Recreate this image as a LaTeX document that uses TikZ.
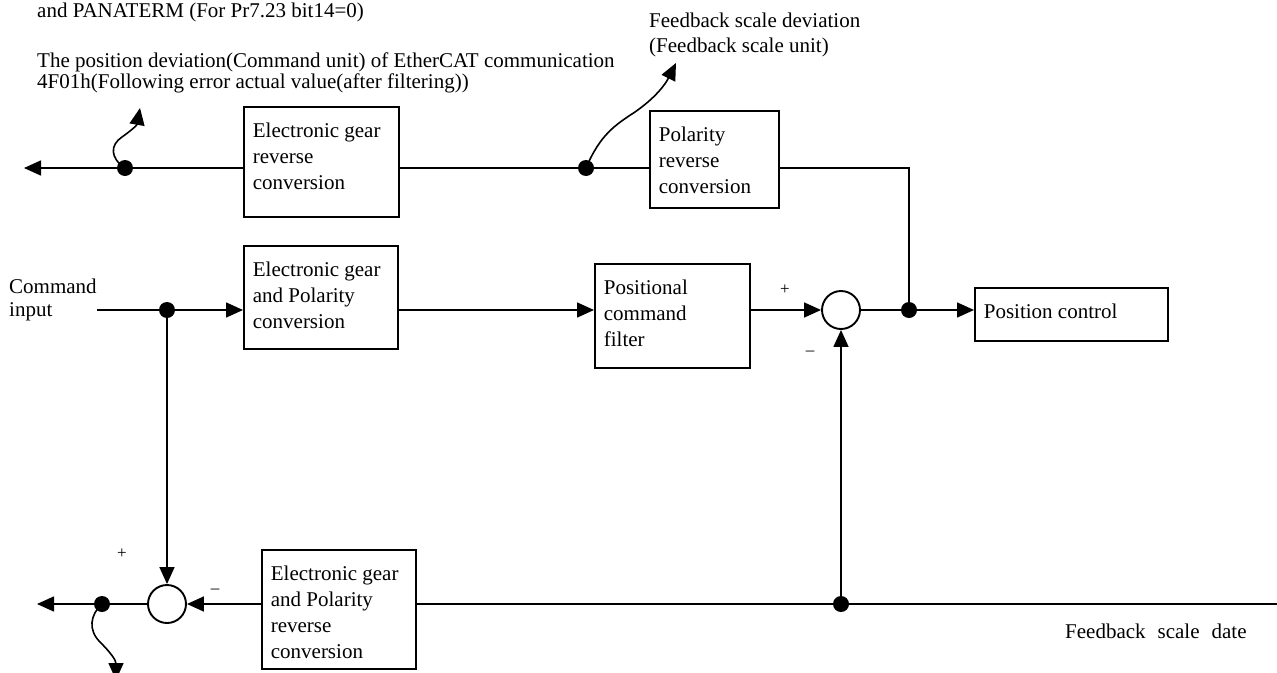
\documentclass[tikz,border=0pt]{standalone}
\usepackage{fontspec}
\setmainfont{Liberation Serif}
\usetikzlibrary{arrows.meta}
\newcommand\blocktxt[3]{\parbox[c][#2][t]{#1}{\raggedright\leftskip=9pt\baselineskip=26pt\rule{0pt}{31pt}#3}}
\newcommand\lines[2]{{\fontsize{21pt}{#1}\selectfont\begin{tabular}[t]{@{}l@{}}#2\end{tabular}}}
\begin{document}
\begin{tikzpicture}[x=1pt,y=-1pt,
  every node/.append style={font=\fontsize{21pt}{26pt}\selectfont},
  box/.style={draw, line width=1.7pt, inner sep=0pt, anchor=north west},
  ln/.style={line width=1.6pt},
  arr/.style={ln, -{Triangle[length=17pt,width=15pt]}},
  dot/.style={circle, fill, inner sep=0pt, minimum size=16pt},
  sumnode/.style={circle, draw, line width=1.9pt, minimum size=38pt, inner sep=0pt},
  lbl/.style={inner sep=0pt, anchor=base west},
  sgn/.style={font=\fontsize{17pt}{19pt}\selectfont, inner sep=0pt}]
\useasboundingbox (0,0) rectangle (1277,672);

% blocks
\node[box] (b1) at (243,106) {\blocktxt{155pt}{110pt}{Electronic gear\\reverse\\conversion}};
\node[box] (b2) at (649,110) {\blocktxt{129pt}{97pt}{Polarity\\reverse\\conversion}};
\node[box] (b3) at (243,245) {\blocktxt{154pt}{103pt}{Electronic gear\\and Polarity\\conversion}};
\node[box] (b4) at (594,263) {\blocktxt{155pt}{104pt}{Positional\\command\\filter}};
\node[box] (b5) at (974,287) {\blocktxt{193pt}{53pt}{Position control}};
\node[box] (b6) at (261,549) {\blocktxt{154pt}{119pt}{Electronic gear\\and Polarity\\reverse\\conversion}};

% summing points
\node[sumnode] (c1) at (841,310) {};
\node[sumnode] (c2) at (167,604) {};

% texts
\node[lbl] (t0) at (37,17) {and PANATERM (For Pr7.23 bit14=0)};
\node[lbl] (tpos) at (37,67) {\lines{21pt}{The position deviation(Command unit) of EtherCAT communication\\4F01h(Following error actual value(after filtering))}};
\node[lbl] (tfsd) at (649,27) {\lines{25pt}{Feedback scale deviation\\(Feedback scale unit)}};
\node[lbl] (cmd) at (9,293) {\lines{23pt}{Command\\input}};
\node[lbl] (tfsdate) at (1065,638) {Feedback\hspace{12pt}scale\hspace{12pt}date};
\node[sgn] (p1) at (785,290) {+};
\node[sgn] (m1) at (810,353) {--};
\node[sgn] (p2) at (122,554) {+};
\node[sgn] (m2) at (215,591) {--};

% junction coordinates
\coordinate (d1) at (125,168);
\coordinate (d2) at (586,168);
\coordinate (d3) at (167,310);
\coordinate (d4) at (909,310);
\coordinate (d5) at (841,604);
\coordinate (d6) at (102,604);
\coordinate (tl) at (24,168);
\coordinate (ta) at (140,108);
\coordinate (tb) at (676,63);
\coordinate (tc) at (116,680);
\coordinate (bl) at (37,604);
\coordinate (br) at (1277,604);

% connectors
\draw[ln] (b2.west |- d2) -- (d2) -- (b1.east |- d2);
\draw[arr] (b1.west |- d1) -- (d1) -- (tl);
\draw[ln] (d4) |- (b2.east |- d2);
\draw[arr] (d1) .. controls (110,158) and (110,145) .. (122,137) .. controls (132,130) and (137,125) .. (ta);
\draw[arr] (d2) .. controls (600,135) and (615,125) .. (635,112) .. controls (655,98) and (665,85) .. (tb);
\draw[arr] (cmd.east |- d3) -- (d3) -- (b3.west |- d3);
\draw[arr] (b3.east |- d3) -- (b4.west |- d3);
\draw[arr] (b4.east |- d3) -- (c1.west);
\draw[arr] (c1.east) -- (d4) -- (b5.west |- d4);
\draw[arr] (d5) -- (c1.south);
\draw[ln] (br) -- (d5) -- (b6.east |- d5);
\draw[arr] (b6.west |- c2) -- (c2.east);
\draw[arr] (d3) -- (c2.north);
\draw[arr] (c2.west) -- (d6) -- (bl);
\draw[arr] (d6) .. controls (90,615) and (88,630) .. (100,642) .. controls (110,652) and (116,660) .. (tc);

% dots
\foreach \d in {d1,d2,d3,d4,d5,d6} \node[dot] at (\d) {};
\end{tikzpicture}
\end{document}
